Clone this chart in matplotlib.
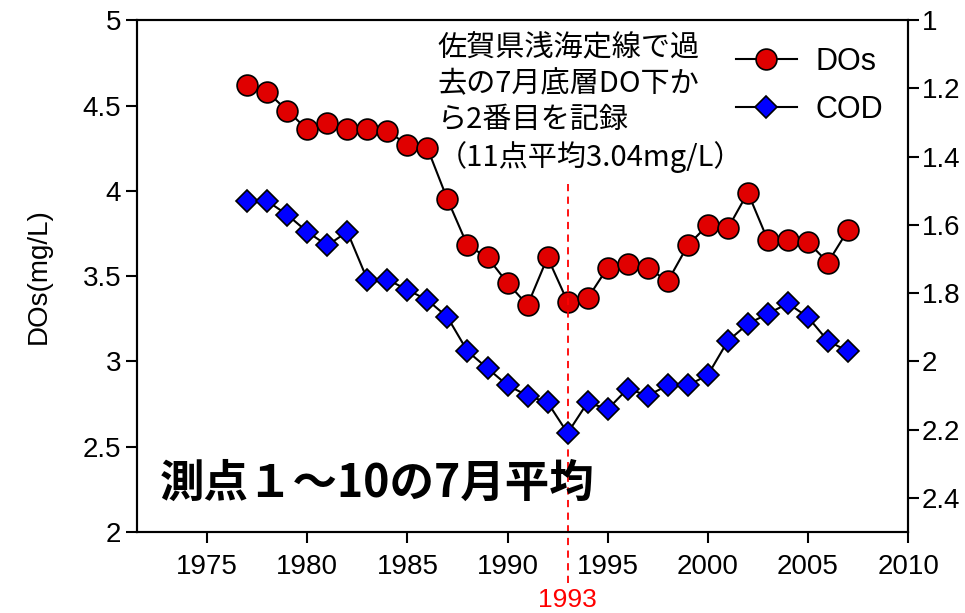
import matplotlib
matplotlib.use('Agg')
import matplotlib.pyplot as plt

plt.rcParams['font.family'] = ['Liberation Sans', 'Noto Sans CJK JP', 'DejaVu Sans']

# data
years = list(range(1977, 2008))
dos = [4.62, 4.58, 4.47, 4.36, 4.40, 4.36, 4.36, 4.35, 4.27, 4.25,
       3.95, 3.68, 3.61, 3.46, 3.33, 3.61, 3.35, 3.37, 3.55, 3.57,
       3.55, 3.47, 3.68, 3.80, 3.78, 3.99, 3.71, 3.71, 3.70, 3.58, 3.77]
cod = [1.53, 1.53, 1.57, 1.62, 1.66, 1.62, 1.76, 1.76, 1.79, 1.82,
       1.87, 1.97, 2.02, 2.07, 2.10, 2.12, 2.21, 2.12, 2.14, 2.08,
       2.10, 2.07, 2.07, 2.04, 1.94, 1.89, 1.86, 1.83, 1.87, 1.94, 1.97]
xticks = [1975, 1980, 1985, 1990, 1995, 2000, 2005, 2010]
left_ticks = [2, 2.5, 3, 3.5, 4, 4.5, 5]
right_ticks = [1, 1.2, 1.4, 1.6, 1.8, 2, 2.2, 2.4]
mark_year = 1993

fig = plt.figure(figsize=(9.65, 6.13), dpi=100)
ax = fig.add_axes([0.142, 0.132, 0.799, 0.835])
ax2 = ax.twinx()

l1, = ax.plot(years, dos, color='black', lw=1.5, marker='o', ms=15,
              mfc='#e00000', mec='black', mew=1.2, label='DOs')
l2, = ax2.plot(years, cod, color='black', lw=1.5, marker='D', ms=11.5,
               mfc='#0000ff', mec='black', mew=1.2, label='COD')

ax.set_xlim(1971.5, 2010)
ax.set_ylim(2, 5)
ax2.set_ylim(2.5, 1)
ax.set_xticks(xticks)
ax.set_yticks(left_ticks)
ax.set_yticklabels(['2', '2.5', '3', '3.5', '4', '4.5', '5'])
ax2.set_yticks(right_ticks)
ax2.set_yticklabels(['1', '1.2', '1.4', '1.6', '1.8', '2', '2.2', '2.4'])

for a in (ax, ax2):
    for s in a.spines.values():
        s.set_linewidth(1.5)
ax.tick_params(axis='both', labelsize=20, width=1.5, length=8, direction='out')
ax2.tick_params(axis='y', labelsize=20, width=1.5, length=8, direction='out', pad=2)
ax.tick_params(axis='x', pad=8)

ax.set_ylabel('DOs(mg/L)', fontsize=20, labelpad=22)

# 1993 marker line
ax.axvline(mark_year, ymin=-0.1, ymax=0.68, color='red', lw=1.3,
           ls=(0, (4, 3)), clip_on=False)
ax.text(mark_year, -0.11, '1993', color='red', fontsize=19,
        ha='center', va='top', transform=ax.get_xaxis_transform())

ax.text(0.39, 0.975, '佐賀県浅海定線で過\n去の7月底層DO下か\nら2番目を記録\n（11点平均3.04mg/L）',
        transform=ax.transAxes, fontsize=21, va='top', ha='left',
        family=['Noto Sans CJK JP'], linespacing=1.25)
ax.text(0.03, 0.05, '測点１～10の7月平均', transform=ax.transAxes,
        fontsize=32, fontweight='bold', va='bottom', ha='left',
        family=['Noto Sans CJK JP'])

ax.legend([l1, l2], ['DOs', 'COD'], loc='upper right', frameon=False,
          fontsize=22, handlelength=2.0, handletextpad=0.6, borderaxespad=0.3,
          bbox_to_anchor=(0.995, 0.99), labelspacing=0.6)

fig.savefig('out.png', dpi=100)
